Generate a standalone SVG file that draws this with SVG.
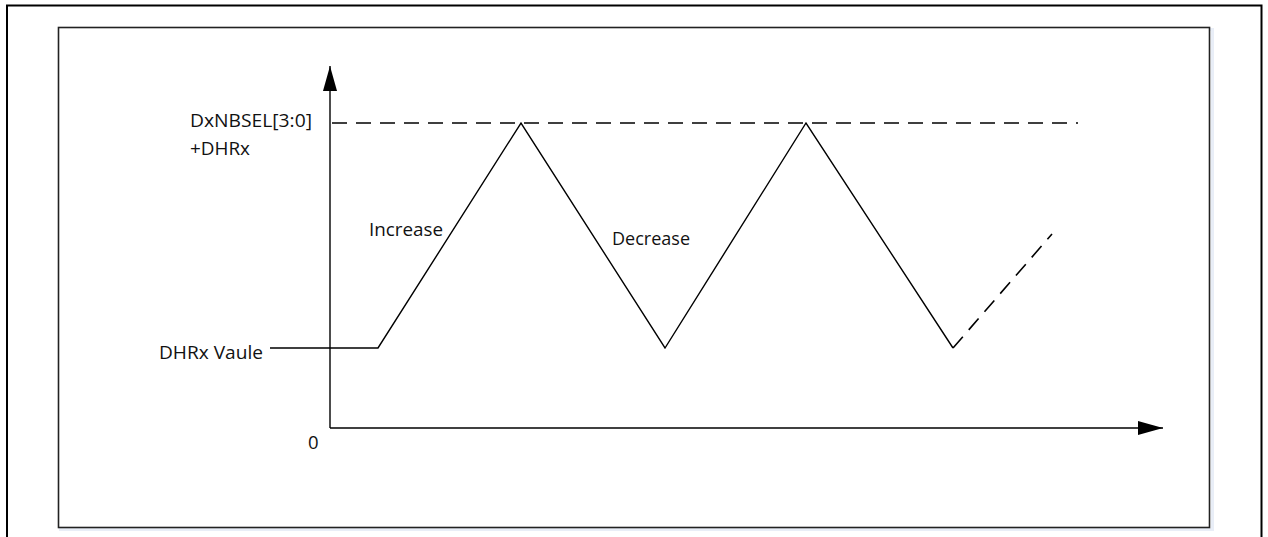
<svg xmlns="http://www.w3.org/2000/svg" width="1268" height="537" viewBox="0 0 1268 537">
<style>
.t{font-family:"Open Sans","Liberation Sans",sans-serif;font-size:18.5px;fill:#111}
.ln{stroke:#000;stroke-width:1.4;fill:none}
.dash{stroke:#000;stroke-width:1.6;fill:none;stroke-dasharray:15 9}
</style>
<defs>
<marker id="ah" markerWidth="26" markerHeight="16" refX="25" refY="7" orient="auto" markerUnits="userSpaceOnUse">
<path d="M0,0 L25,7 L0,14 Z" fill="#000"/>
</marker>
</defs>
<rect width="1268" height="537" fill="#fff"/>
<g id="outer-frame">
<path d="M7,537 L7,5.5 L1261.5,5.5 L1261.5,537" fill="none" stroke="#000" stroke-width="2"/>
</g>
<g id="chart-box">
<rect x="60.5" y="29.5" width="1152" height="500" fill="none" stroke="#e9eef7" stroke-width="3"/>
<rect x="58.5" y="27.5" width="1151" height="500" fill="#fff" stroke="#222" stroke-width="1.6"/>
</g>
<g id="connectors">
<line id="y-axis" class="ln" x1="330" y1="428" x2="330" y2="66" marker-end="url(#ah)"/>
<line id="x-axis" class="ln" x1="330" y1="428" x2="1163" y2="428" marker-end="url(#ah)"/>
<line id="max-level" class="dash" x1="332" y1="123" x2="1078" y2="123"/>
<polyline id="waveform" class="ln" points="270,348 378,348 521,123 665,348 806,123 953,348"/>
<line id="waveform-cont" class="dash" x1="953" y1="348" x2="1052" y2="234" stroke-dasharray="12 7"/>
</g>
<g id="labels">
<text class="t" x="190" y="126.5" textLength="122" lengthAdjust="spacingAndGlyphs">DxNBSEL[3:0]</text>
<text class="t" x="190" y="155" textLength="60" lengthAdjust="spacingAndGlyphs">+DHRx</text>
<text class="t" x="369" y="236" textLength="74" lengthAdjust="spacingAndGlyphs">Increase</text>
<text class="t" x="612" y="245" textLength="78" lengthAdjust="spacingAndGlyphs">Decrease</text>
<text class="t" x="159" y="359" textLength="104" lengthAdjust="spacingAndGlyphs">DHRx Vaule</text>
<text class="t" x="308" y="449">0</text>
</g>
</svg>
